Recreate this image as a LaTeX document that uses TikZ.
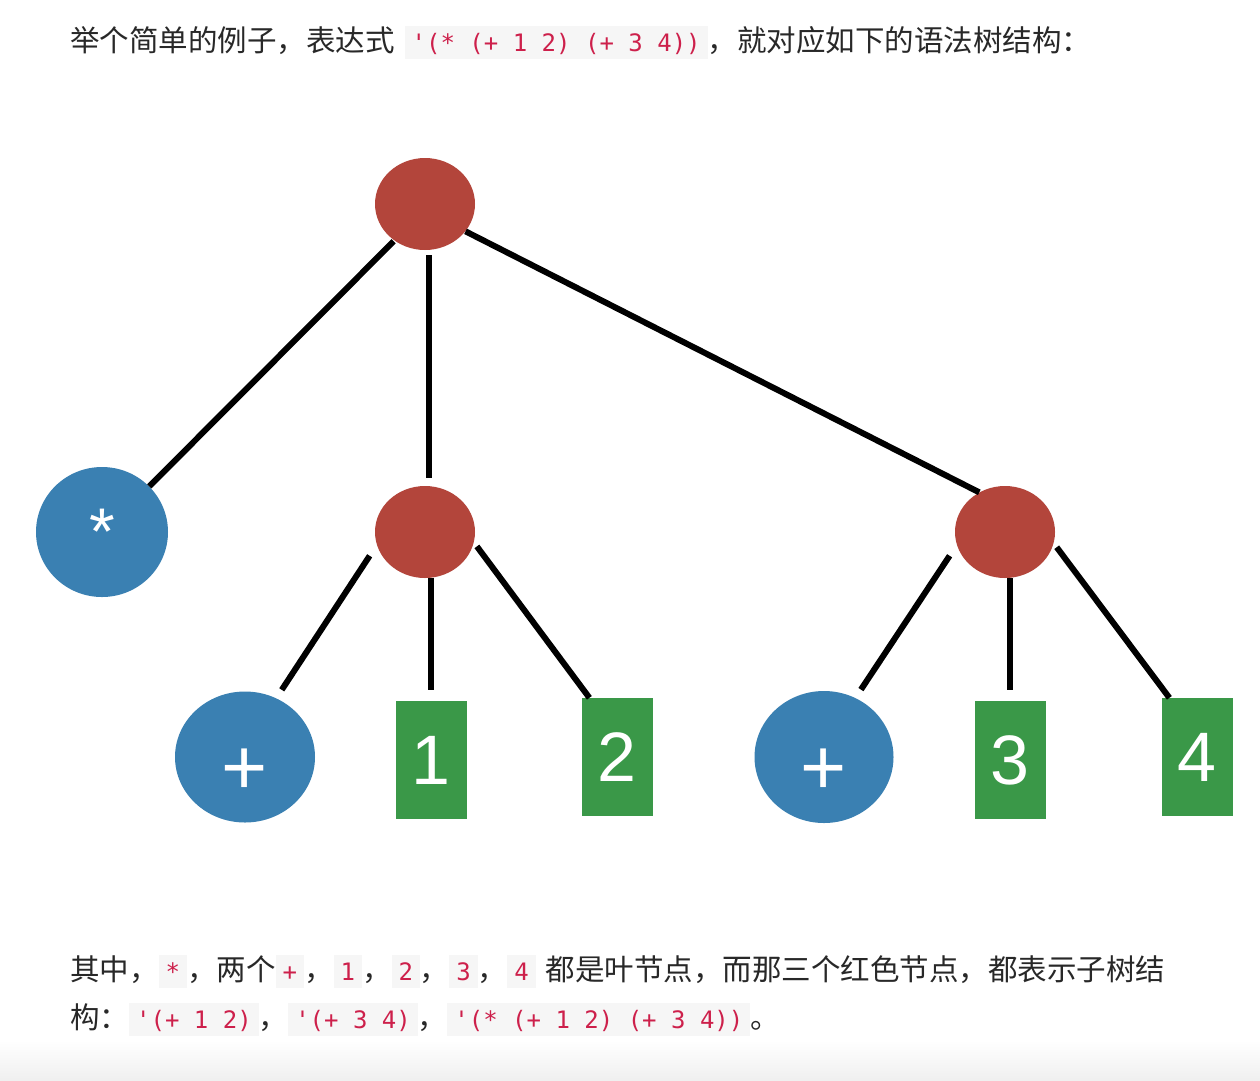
\documentclass[tikz,border=0pt]{standalone}
\usepackage{fontspec}
\setmainfont{Noto Sans CJK SC}
\setmonofont{DejaVu Sans Mono}
\newfontfamily\leaffont{Liberation Sans}
\usepackage{xcolor}
\usetikzlibrary{shapes.geometric}

\definecolor{subtreered}{RGB}{179,69,59}
\definecolor{opblue}{RGB}{58,128,178}
\definecolor{leafgreen}{RGB}{58,152,72}
\definecolor{textgray}{RGB}{40,40,40}
\definecolor{codered}{RGB}{205,32,75}
\definecolor{codebg}{RGB}{246,246,246}

\newcommand{\code}[1]{{\setlength{\fboxsep}{0pt}\colorbox{codebg}{\hspace{7pt}\rule[-8pt]{0pt}{33pt}{\ttfamily\fontsize{24}{24}\selectfont\color{codered}#1}\hspace{7pt}}}}

\begin{document}
\begin{tikzpicture}[x=1pt, y=-1pt,
                    subtree/.style={ellipse, fill=subtreered, minimum width=100pt, minimum height=92pt, inner sep=0pt},
                    opnode/.style={ellipse, fill=opblue, inner sep=0pt, text=white, font=\leaffont\fontsize{79}{90}\selectfont},
                    leafbox/.style={rectangle, fill=leafgreen, minimum width=71pt, minimum height=118pt, inner sep=0pt, text=white, font=\leaffont\fontsize{70}{84}\selectfont},
                    branch/.style={line width=6pt, black},
                    textline/.style={anchor=base west, inner sep=0pt, text=textgray, font=\fontsize{29.5}{36}\selectfont},
                ]
                \useasboundingbox (0,0) rectangle (1260,1080);
                \fill[white] (0,0) rectangle (1260,1080);
                \shade[top color=white, bottom color=black!6] (0,1040) rectangle (1260,1080);

                \node[textline] (intro) at (70,51) {举个简单的例子，表达式\hspace{10pt}\code{'(* (+ 1 2) (+ 3 4))}，就对应如下的语法树结构：};

                % tree
                \node[subtree] (expr) at (425,204) {};
                \node[opnode, minimum width=132pt, minimum height=130pt, font=\leaffont\fontsize{66}{80}\selectfont] (mulop) at (102,532) {*};
                \node[subtree] (lsub) at (425,532) {};
                \node[subtree] (rsub) at (1005,532) {};
                \node[opnode, minimum width=140pt, minimum height=131pt, text height=74pt, text depth=0pt] (laddop) at (245,757) {+};
                \node[leafbox] (one) at (431,760) {1};
                \node[leafbox] (two) at (617,757) {2};
                \node[opnode, minimum width=139pt, minimum height=132pt, text height=74pt, text depth=0pt] (raddop) at (824,757) {+};
                \node[leafbox] (three) at (1010,760) {3};
                \node[leafbox] (four) at (1197,757) {4};

                \draw[branch, shorten <=1pt] (expr.230) -- (mulop.44);
                \draw[branch, shorten <=5pt, shorten >=8pt] (expr.-85) -- (lsub.85);
                \draw[branch] (expr.-34) -- (rsub.123);
                \draw[branch, shorten <=13pt, shorten >=10pt] (lsub.195) -- (laddop.62);
                \draw[branch, shorten >=11pt] (one.north |- lsub.south) -- (one.north);
                \draw[branch, shorten <=5pt] (lsub.-12) -- (two.115);
                \draw[branch, shorten <=13pt, shorten >=10pt] (rsub.195) -- (raddop.62);
                \draw[branch, shorten >=11pt] (three.north |- rsub.south) -- (three.north);
                \draw[branch, shorten <=5pt] (rsub.-13) -- (four.115);

                \node[textline] (leafnote) at (70,980) {其中，\code{*}，两个\code{+}，\code{1}，\code{2}，\code{3}，\code{4}\hspace{10pt}都是叶节点，而那三个红色节点，都表示子树结};
                \node[textline] (subnote) at (70,1028) {构：\code{'(+ 1 2)}，\code{'(+ 3 4)}，\code{'(* (+ 1 2) (+ 3 4))}。};
            \end{tikzpicture}
\end{document}
